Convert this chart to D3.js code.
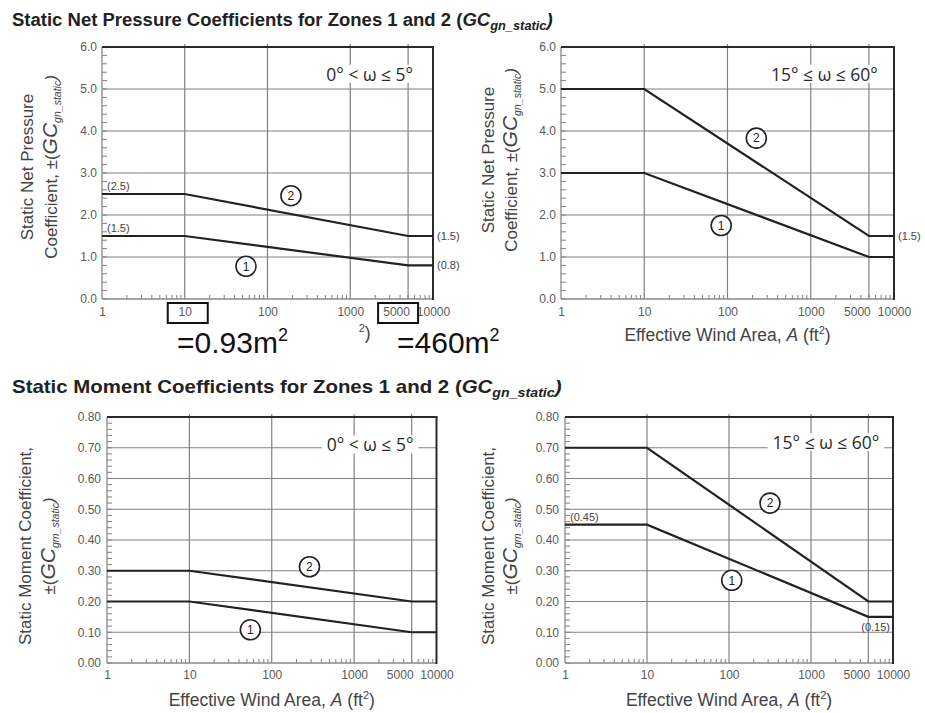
<!DOCTYPE html>
<html><head><meta charset="utf-8">
<script src="https://cdn.jsdelivr.net/npm/d3@7"></script>
<style>body{margin:0;background:#fff} svg{display:block}</style>
</head><body>
<svg id="c" width="925" height="713"></svg>
<script>
// ---------- data ----------
const xTickValues = [1, 10, 100, 1000, 5000, 10000];
const xTickLabels = ["1", "10", "100", "1000", "5000", "10000"];
const xGridValues = [10, 100, 1000, 5000];
const pressureTicks = [0, 1, 2, 3, 4, 5, 6];
const pressureTickLabels = ["0.0", "1.0", "2.0", "3.0", "4.0", "5.0", "6.0"];
const momentTicks = [0, 0.1, 0.2, 0.3, 0.4, 0.5, 0.6, 0.7, 0.8];
const momentTickLabels = ["0.00", "0.10", "0.20", "0.30", "0.40", "0.50", "0.60", "0.70", "0.80"];
const areas = [1, 10, 5000, 10000];
const pLowZone1 = [1.5, 1.5, 0.8, 0.8];
const pLowZone2 = [2.5, 2.5, 1.5, 1.5];
const pHighZone1 = [3.0, 3.0, 1.0, 1.0];
const pHighZone2 = [5.0, 5.0, 1.5, 1.5];
const mLowZone1 = [0.20, 0.20, 0.10, 0.10];
const mLowZone2 = [0.30, 0.30, 0.20, 0.20];
const mHighZone1 = [0.45, 0.45, 0.15, 0.15];
const mHighZone2 = [0.70, 0.70, 0.20, 0.20];
const angleLow = "0° < ω ≤ 5°";
const angleHigh = "15° ≤ ω ≤ 60°";

const svg = d3.select("#c");
const FONT = "'Liberation Sans', Arial, sans-serif";

function panel(cfg) {
  const g = svg.append("g");
  const x = d3.scaleLog().domain([1, 10000]).range([cfg.x0, cfg.x1]);
  const y = d3.scaleLinear().domain([0, cfg.ymax]).range([cfg.y1, cfg.y0]);
  const gridC = "#808080";
  // horizontal gridlines
  g.selectAll("line.hg").data(cfg.yTicks.filter(v => v > 0 && v < cfg.ymax)).join("line")
    .attr("x1", cfg.x0).attr("x2", cfg.x1).attr("y1", d => y(d)).attr("y2", d => y(d))
    .attr("stroke", gridC).attr("stroke-width", 1.2);
  // vertical gridlines
  g.selectAll("line.vg").data(xGridValues).join("line")
    .attr("x1", d => x(d)).attr("x2", d => x(d)).attr("y1", cfg.y0 - 3).attr("y2", cfg.y1)
    .attr("stroke", gridC).attr("stroke-width", 1.2);
  // minor x ticks
  const xMinor = [];
  [1, 10, 100, 1000].forEach(dec => { for (let k = 2; k <= 9; k++) xMinor.push(k * dec); });
  g.selectAll("line.xm").data(xMinor).join("line")
    .attr("x1", d => x(d)).attr("x2", d => x(d)).attr("y1", cfg.y1).attr("y2", cfg.y1 - 4)
    .attr("stroke", gridC).attr("stroke-width", 1);
  // minor y ticks
  const yMinor = d3.range(0, cfg.ymax + 1e-9, cfg.yMinorStep);
  g.selectAll("line.ym").data(yMinor).join("line")
    .attr("x1", cfg.x0).attr("x2", cfg.x0 + 5).attr("y1", d => y(d)).attr("y2", d => y(d))
    .attr("stroke", gridC).attr("stroke-width", 1);
  // axis lines
  g.append("line").attr("x1", cfg.x0).attr("x2", cfg.x0).attr("y1", cfg.y0).attr("y2", cfg.y1)
    .attr("stroke", "#888").attr("stroke-width", 1.3);
  g.append("line").attr("x1", cfg.x0).attr("x2", cfg.x1).attr("y1", cfg.y1).attr("y2", cfg.y1)
    .attr("stroke", "#888").attr("stroke-width", 1.3);
  g.append("line").attr("x1", cfg.x0).attr("x2", cfg.x1 + 1).attr("y1", cfg.y0).attr("y2", cfg.y0)
    .attr("stroke", "#2a2a2a").attr("stroke-width", 2);
  g.append("line").attr("x1", cfg.x1).attr("x2", cfg.x1).attr("y1", cfg.y0).attr("y2", cfg.y1 + 1)
    .attr("stroke", "#2a2a2a").attr("stroke-width", 2);

  // tick labels
  const xa = g.append("g").attr("transform", `translate(0,${cfg.y1})`)
    .call(d3.axisBottom(x).tickValues(xTickValues).tickFormat((d, i) => xTickLabels[i]).tickSize(0).tickPadding(cfg.xPad));
  xa.select(".domain").remove();
  xa.selectAll("text").attr("font-family", FONT).attr("font-size", 12).attr("fill", "#5a5a5a")
    .attr("dx", d => d === 5000 ? -12 : 0);
  const ya = g.append("g").attr("transform", `translate(${cfg.x0},0)`)
    .call(d3.axisLeft(y).tickValues(cfg.yTicks).tickFormat((d, i) => cfg.yTickLabels[i]).tickSize(0).tickPadding(cfg.yPad));
  ya.select(".domain").remove();
  ya.selectAll("text").attr("font-family", FONT).attr("font-size", 12).attr("fill", "#5a5a5a");

  // angle annotation with white backing
  const bg = g.append("rect").attr("fill", "#fff");
  const at = g.append("text").attr("x", x(cfg.angleAt[0])).attr("y", y(cfg.angleAt[1]))
    .attr("text-anchor", "middle").attr("dy", "0.35em")
    .attr("font-family", "'Open Sans', 'Noto Sans', sans-serif").attr("font-size", 17.5).attr("fill", "#2a2a2a")
    .text(cfg.angle);
  const bb = at.node().getBBox();
  bg.attr("x", bb.x - 5).attr("y", bb.y + 3).attr("width", bb.width + 10).attr("height", bb.height - 6);

  // lines
  const line = d3.line().x(d => x(d[0])).y(d => y(d[1]));
  [cfg.zone1, cfg.zone2].forEach(vals => {
    g.append("path").datum(areas.map((a, i) => [a, vals[i]])).attr("d", line)
      .attr("fill", "none").attr("stroke", "#222").attr("stroke-width", 2.2);
  });

  // zone circles
  cfg.circles.forEach(c => {
    g.append("circle").attr("cx", x(c.a)).attr("cy", y(c.v)).attr("r", 10)
      .attr("fill", "#fff").attr("stroke", "#222").attr("stroke-width", 1.6);
    g.append("text").attr("x", x(c.a)).attr("y", y(c.v)).attr("dy", "0.36em").attr("text-anchor", "middle")
      .attr("font-family", FONT).attr("font-size", 12).attr("fill", "#222").text(c.t);
  });

  // value labels
  (cfg.valueLabels || []).forEach(l => {
    let tx = l.pos === "left" ? x(1) + 5 : l.pos === "right" ? x(10000) + 4 : x(10000) - 3;
    let ty = l.pos === "left" ? y(l.v) - 4 : l.pos === "right" ? y(l.v) + 4 : y(l.v) + 14;
    g.append("text").attr("x", tx).attr("y", ty)
      .attr("text-anchor", l.pos === "below" ? "end" : "start")
      .attr("font-family", FONT).attr("font-size", 11).attr("fill", "#444").text(l.t);
  });

  // y axis label
  g.append("text").attr("transform", `translate(${cfg.ylx[0]},${cfg.ylc}) rotate(-90)`)
    .attr("text-anchor", "middle").attr("font-family", FONT).attr("font-size", 17).attr("fill", "#444")
    .text(cfg.yl1);
  const yl2 = g.append("text").attr("transform", `translate(${cfg.ylx[1]},${cfg.ylc}) rotate(-90)`)
    .attr("text-anchor", "middle").attr("font-family", FONT).attr("font-size", 17).attr("fill", "#444");
  yl2.append("tspan").text(cfg.yl2a);
  yl2.append("tspan").attr("font-style", "italic").attr("font-size", 21).text("GC");
  yl2.append("tspan").attr("font-style", "italic").attr("font-size", 10.5).attr("dy", 4).text(cfg.yl2sub);
  yl2.append("tspan").attr("font-style", "italic").attr("font-size", 17).attr("dy", -4).text(")");

  // x axis label
  const xl = g.append("text").attr("x", (cfg.x0 + cfg.x1) / 2).attr("y", cfg.xly).attr("text-anchor", "middle")
    .attr("font-family", FONT).attr("font-size", 17.5).attr("fill", "#444");
  xl.append("tspan").text("Effective Wind Area, ");
  xl.append("tspan").attr("font-style", "italic").text("A");
  xl.append("tspan").text(" (ft");
  xl.append("tspan").attr("font-size", 11).attr("dy", -7).text("2");
  xl.append("tspan").attr("dy", 7).text(")");
  if (cfg.hideLabel) {
    // only the tail "²)" of the axis title is left visible beneath the overlay
    const right = xl.node().getBBox();
    const endX = right.x + right.width;
    xl.remove();
    const tail = g.append("text").attr("x", endX).attr("y", cfg.xly).attr("text-anchor", "end")
      .attr("font-family", FONT).attr("font-size", 17.5).attr("fill", "#444");
    tail.append("tspan").attr("font-size", 11).attr("dy", -7).text("2");
    tail.append("tspan").attr("dy", 7).text(")");
  }
  return { g, x, y };
}

function title(yb, txt, targetRight) {
  const t = svg.append("text").attr("x", 0).attr("y", 0).attr("font-family", FONT)
    .attr("font-weight", "bold").attr("font-size", 18).attr("fill", "#222");
  t.append("tspan").text(txt + " (");
  t.append("tspan").attr("font-style", "italic").text("GC");
  t.append("tspan").attr("font-style", "italic").attr("font-size", 12.5).attr("dy", 4).text("gn_static");
  t.append("tspan").attr("font-style", "italic").attr("dy", -4).text(")");
  const w = t.node().getBBox().width;
  const s = (targetRight - 12) / w;
  t.attr("transform", `translate(12,${yb}) scale(${s},1)`);
}

title(26, "Static Net Pressure Coefficients for Zones 1 and 2", 553);
title(393, "Static Moment Coefficients for Zones 1 and 2", 562);

const P1 = panel({
  x0: 102, x1: 433, y0: 47, y1: 299, ymax: 6, yTicks: pressureTicks, yTickLabels: pressureTickLabels,
  yMinorStep: 0.2, xPad: 8, yPad: 5, angle: angleLow, angleAt: [1720, 5.34],
  zone1: pLowZone1, zone2: pLowZone2,
  circles: [{ a: 192, v: 2.46, t: "2" }, { a: 55, v: 0.78, t: "1" }],
  valueLabels: [{ v: 2.5, t: "(2.5)", pos: "left" }, { v: 1.5, t: "(1.5)", pos: "left" },
                { v: 1.5, t: "(1.5)", pos: "right" }, { v: 0.8, t: "(0.8)", pos: "right" }],
  ylx: [33, 57], ylc: 167, yl1: "Static Net Pressure", yl2a: "Coefficient, ±(", yl2sub: "gn_static",
  xly: 339, hideLabel: true
});
const P2 = panel({
  x0: 561, x1: 894, y0: 47, y1: 299, ymax: 6, yTicks: pressureTicks, yTickLabels: pressureTickLabels,
  yMinorStep: 0.2, xPad: 8, yPad: 5, angle: angleHigh, angleAt: [1460, 5.34],
  zone1: pHighZone1, zone2: pHighZone2,
  circles: [{ a: 222, v: 3.83, t: "2" }, { a: 84, v: 1.75, t: "1" }],
  valueLabels: [{ v: 1.5, t: "(1.5)", pos: "right" }],
  ylx: [494, 517], ylc: 160, yl1: "Static Net Pressure", yl2a: "Coefficient, ±(", yl2sub: "gn_static",
  xly: 341
});
const P3 = panel({
  x0: 107, x1: 436.5, y0: 417, y1: 663, ymax: 0.8, yTicks: momentTicks, yTickLabels: momentTickLabels,
  yMinorStep: 0.02, xPad: 7, yPad: 6, angle: angleLow, angleAt: [1560, 0.708],
  zone1: mLowZone1, zone2: mLowZone2,
  circles: [{ a: 287, v: 0.313, t: "2" }, { a: 55, v: 0.108, t: "1" }],
  valueLabels: [],
  ylx: [31, 55], ylc: 546, yl1: "Static Moment Coefficient,", yl2a: "±(", yl2sub: "gm_static",
  xly: 706
});
const P4 = panel({
  x0: 565, x1: 893, y0: 417, y1: 663, ymax: 0.8, yTicks: momentTicks, yTickLabels: momentTickLabels,
  yMinorStep: 0.02, xPad: 7, yPad: 6, angle: angleHigh, angleAt: [1524, 0.716],
  zone1: mHighZone1, zone2: mHighZone2,
  circles: [{ a: 316, v: 0.52, t: "2" }, { a: 108, v: 0.269, t: "1" }],
  valueLabels: [{ v: 0.45, t: "(0.45)", pos: "left" }, { v: 0.15, t: "(0.15)", pos: "below" }],
  ylx: [494, 517], ylc: 546, yl1: "Static Moment Coefficient,", yl2a: "±(", yl2sub: "gm_static",
  xly: 706
});

// ---------- overlay annotation on top-left panel ----------
(function () {
  const by = P1.y.range()[0] + 4;
  [[10, -17, 40], [5000, -30, 40]].forEach(([v, off, w]) => {
    svg.append("rect").attr("x", P1.x(v) + off).attr("y", by).attr("width", w).attr("height", 20)
      .attr("fill", "none").attr("stroke", "#111").attr("stroke-width", 2);
  });
  [["=0.93m", 177], ["=460m", 397]].forEach(([t, xx]) => {
    const tt = svg.append("text").attr("x", xx).attr("y", 353).attr("font-family", FONT)
      .attr("font-size", 30).attr("fill", "#111");
    tt.append("tspan").text(t);
    tt.append("tspan").attr("font-size", 18).attr("dy", -12).text("2");
  });
})();
</script></body></html>
